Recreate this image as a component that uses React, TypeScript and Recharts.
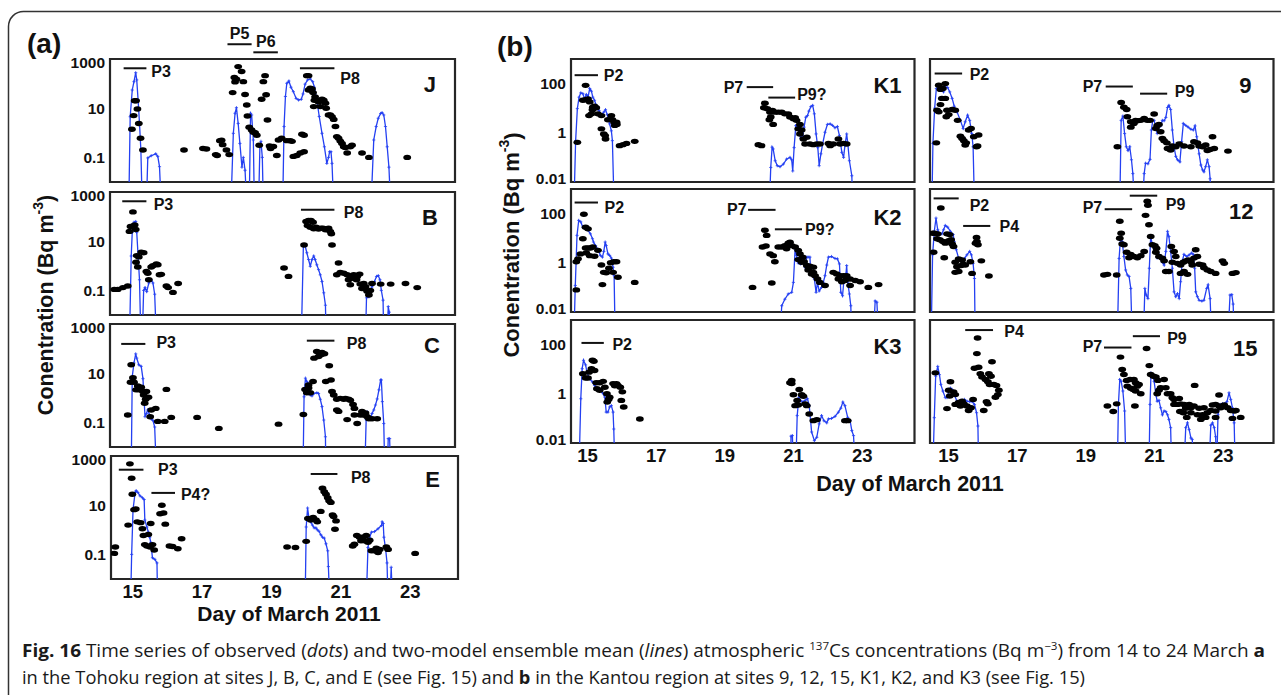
import React from 'react';
import {
  ComposedChart,
  Line,
  Scatter,
  XAxis,
  YAxis,
  ReferenceArea,
  ReferenceLine,
  ReferenceDot,
} from 'recharts';

type Pt = [number, number];
type Ann = { label: string; x1: number; x2: number; y: number; tx: number; ty: number; anchor: 'start' | 'end' | 'middle' };

// ---------- axes ----------
const X_DOMAIN: [number, number] = [14.375, 24.375];
const Y_DOMAIN: [number, number] = [0.01, 1000];
const X_LABELS = [15, 17, 19, 21, 23];
const DAY_TICKS = [15.375, 16.375, 17.375, 18.375, 19.375, 20.375, 21.375, 22.375, 23.375];
const DECADE_TICKS = [0.1, 1, 10, 100];
const Y_LABELS_A = [0.1, 10, 1000];
const Y_LABELS_B = [0.01, 1, 100];

// ---------- (a) Tohoku ----------
const J_DOTS: Pt[] = [
  [15.01, 1.4], [15.06, 5], [15.09, 20], [15.13, 20], [15.17, 9.3], [15.21, 2.4], [15.26, 0.6], [15.33, 0.2],
  [16.52, 0.2], [17.07, 0.23], [17.17, 0.22], [17.44, 0.13], [17.48, 0.12], [17.56, 0.48], [17.61, 0.5], [17.64, 0.33],
  [17.75, 0.2], [17.83, 0.13], [17.93, 43], [17.98, 178], [18.0, 117], [18.04, 150], [18.09, 490], [18.19, 310],
  [18.24, 120], [18.29, 36], [18.34, 13.5], [18.36, 4.8], [18.41, 1.7], [18.48, 1.3], [18.53, 1.05], [18.58, 1.0],
  [18.63, 0.8], [18.7, 0.31], [18.77, 23], [18.82, 120], [18.87, 210], [18.9, 35], [18.94, 3.3], [19.0, 0.29],
  [19.03, 0.23], [19.11, 0.28], [19.21, 0.12], [19.26, 0.51], [19.35, 0.6], [19.5, 0.48], [19.6, 0.48], [19.65, 0.45],
  [19.69, 0.11], [19.79, 0.12], [19.89, 0.15], [19.94, 0.87], [20.0, 0.8], [20.0, 0.17], [20.08, 210], [20.13, 210],
  [20.13, 55], [20.18, 65], [20.23, 60], [20.26, 43], [20.3, 21], [20.28, 11.6], [20.32, 29], [20.37, 21], [20.42, 18],
  [20.47, 11.6], [20.52, 23], [20.57, 21], [20.62, 16], [20.64, 10], [20.71, 5.3], [20.76, 5.3], [20.81, 4.5],
  [20.86, 3.5], [20.91, 1.8], [20.95, 0.7], [21.0, 0.6], [21.05, 0.46], [21.1, 0.37], [21.15, 0.27], [21.2, 0.25],
  [21.25, 0.15], [21.34, 0.27], [21.39, 0.31], [21.68, 0.15], [21.88, 0.1], [22.99, 0.1],
];
const J_LINE: Pt[] = [
  [14.92, 0.001], [14.96, 4.5], [15.02, 55], [15.07, 120], [15.12, 277], [15.15, 141], [15.19, 21], [15.23, 2.4],
  [15.27, 0.2], [15.31, 0.001], [15.43, 0.001], [15.47, 0.095], [15.57, 0.117], [15.7, 0.14], [15.76, 0.11],
  [15.81, 0.042], [15.86, 0.001], [17.88, 0.001], [17.95, 0.95], [18.0, 6.2], [18.04, 10.5], [18.09, 2.4],
  [18.14, 0.37], [18.2, 0.04], [18.24, 0.1], [18.29, 0.03], [18.34, 0.001], [18.41, 0.001], [18.45, 6.2],
  [18.48, 5.3], [18.53, 0.51], [18.56, 0.001], [18.68, 0.001], [18.72, 0.27], [18.75, 0.45], [18.79, 0.1],
  [18.82, 0.001], [19.38, 0.001], [19.42, 1.8], [19.46, 30], [19.5, 103], [19.56, 127], [19.62, 71], [19.69, 47],
  [19.77, 25], [19.84, 21.6], [19.92, 23], [19.97, 38], [20.03, 95], [20.1, 140], [20.18, 155], [20.25, 120],
  [20.3, 71], [20.37, 21.6], [20.44, 4.6], [20.52, 0.95], [20.59, 0.27], [20.66, 0.057], [20.71, 0.1], [20.74, 0.17],
  [20.78, 0.17], [20.81, 0.057], [20.86, 0.001], [21.94, 0.001], [22.02, 0.51], [22.09, 1.8], [22.15, 3.9],
  [22.22, 6.1], [22.26, 6.6], [22.31, 5.3], [22.36, 1.8], [22.41, 0.27], [22.46, 0.04], [22.51, 0.001],
];
const J_ANN: Ann[] = [
  { label: 'P3', x1: 14.77, x2: 15.43, y: 420, tx: 15.57, ty: 300, anchor: 'start' },
  { label: 'P5', x1: 17.78, x2: 18.48, y: 3980, tx: 18.13, ty: 11400, anchor: 'middle' },
  { label: 'P6', x1: 18.53, x2: 19.24, y: 1870, tx: 18.89, ty: 5000, anchor: 'middle' },
  { label: 'P8', x1: 19.88, x2: 20.88, y: 420, tx: 21.05, ty: 155, anchor: 'start' },
];

const B_DOTS: Pt[] = [
  [14.5, 0.11], [14.6, 0.11], [14.75, 0.13], [14.89, 0.15], [15.04, 155], [14.97, 40], [15.02, 40], [15.09, 46],
  [14.94, 25], [15.12, 30], [15.28, 3.6], [15.35, 3.4], [15.15, 2.6], [15.21, 2.3], [15.13, 1.4], [15.18, 0.9],
  [15.43, 0.59], [15.47, 0.5], [15.5, 0.27], [15.57, 0.9], [15.62, 1.0], [15.72, 1.2], [15.76, 1.1], [15.81, 0.43],
  [15.86, 0.45], [16.01, 0.15], [16.06, 0.13], [16.2, 0.083], [16.35, 0.19], [19.42, 0.81], [19.55, 0.37],
  [20.0, 7], [20.06, 63], [20.13, 69], [20.2, 69], [20.26, 59], [20.1, 43], [20.18, 37], [20.28, 32], [20.35, 37],
  [20.42, 31], [20.49, 34], [20.55, 34], [20.62, 29], [20.66, 32], [20.71, 34], [20.76, 25], [20.79, 20], [20.81, 7],
  [21.0, 1.3], [20.95, 0.43], [21.05, 0.54], [21.15, 0.5], [21.25, 0.43], [21.34, 0.37], [21.44, 0.43], [21.54, 0.37],
  [21.61, 0.46], [21.29, 0.27], [21.39, 0.31], [21.52, 0.27], [21.34, 0.17], [21.63, 0.18], [21.73, 0.19],
  [21.68, 0.12], [21.78, 0.14], [21.83, 0.093], [21.92, 0.1], [21.88, 0.065], [21.97, 0.19], [22.22, 0.18],
  [22.51, 0.18], [22.94, 0.19], [23.28, 0.13],
];
const B_LINE: Pt[] = [
  [14.94, 0.001], [14.99, 2.5], [15.02, 23], [15.07, 59], [15.12, 63], [15.15, 23], [15.19, 2.5], [15.23, 0.27],
  [15.27, 0.001], [15.31, 0.001], [15.35, 0.1], [15.39, 0.13], [15.44, 0.09], [15.5, 0.2], [15.57, 0.27], [15.62, 0.2],
  [15.67, 0.07], [15.72, 0.001], [19.92, 0.001], [19.98, 6.3], [20.03, 6.5], [20.08, 3.4], [20.13, 1.8], [20.18, 0.95],
  [20.23, 1.8], [20.28, 2.5], [20.32, 1.8], [20.37, 1.1], [20.42, 0.7], [20.47, 0.43], [20.52, 0.23], [20.57, 0.08],
  [20.62, 0.025], [20.64, 0.001], [21.78, 0.001], [21.81, 0.05], [21.88, 0.055], [21.92, 0.09], [21.97, 0.14],
  [22.04, 0.23], [22.1, 0.37], [22.15, 0.4], [22.2, 0.27], [22.24, 0.1], [22.29, 0.04], [22.31, 0.001],
  [22.41, 0.001], [22.44, 0.022], [22.47, 0.013], [22.49, 0.001],
];
const B_ANN: Ann[] = [
  { label: 'P3', x1: 14.73, x2: 15.43, y: 420, tx: 15.64, ty: 325, anchor: 'start' },
  { label: 'P8', x1: 19.91, x2: 20.88, y: 190, tx: 21.15, ty: 150, anchor: 'start' },
];

const C_DOTS: Pt[] = [
  [14.89, 0.2], [14.99, 22], [15.04, 6.6], [14.97, 4.3], [15.07, 4.3], [15.13, 2.1], [15.21, 2.1], [15.28, 2.7],
  [15.33, 1.8], [15.43, 1.8], [15.18, 3], [15.35, 1.3], [15.41, 0.87], [15.49, 1.05], [15.38, 0.6], [15.57, 0.32],
  [15.7, 0.37], [15.76, 0.11], [15.96, 0.11], [15.54, 0.17], [16.01, 2.2], [16.15, 0.16], [16.9, 0.16],
  [17.53, 0.057], [19.26, 0.085], [19.98, 0.21], [20.03, 2.2], [20.13, 2.5], [20.26, 4.6], [20.13, 3.3],
  [20.08, 1.6], [20.18, 1.6], [20.29, 41], [20.37, 76], [20.45, 66], [20.52, 69], [20.59, 62], [20.42, 48],
  [20.49, 56], [20.73, 20], [20.63, 4.6], [20.78, 5.3], [20.81, 1.8], [20.86, 1.3], [20.95, 0.87], [21.05, 0.95],
  [21.15, 0.87], [21.2, 0.95], [21.29, 0.87], [21.34, 0.8], [21.42, 0.54], [21.46, 0.37], [20.95, 0.32],
  [21.0, 0.28], [21.25, 0.13], [21.46, 0.2], [21.54, 0.09], [21.63, 0.2], [21.73, 0.2], [21.83, 0.17],
  [21.68, 0.28], [21.78, 0.24], [21.88, 0.14], [21.97, 0.14], [22.12, 0.14],
];
const C_LINE: Pt[] = [
  [14.99, 0.001], [15.02, 7.3], [15.07, 26], [15.12, 61], [15.15, 41], [15.21, 22], [15.28, 19], [15.33, 6],
  [15.39, 0.17], [15.43, 0.23], [15.47, 0.32], [15.52, 0.2], [15.57, 0.14], [15.62, 0.12], [15.67, 0.065],
  [15.72, 0.001], [19.97, 0.001], [20.0, 1.1], [20.04, 6.3], [20.08, 4.6], [20.13, 3.6], [20.18, 1.3], [20.23, 1.2],
  [20.29, 1.5], [20.37, 1.6], [20.42, 1.5], [20.47, 0.87], [20.52, 0.44], [20.57, 0.125], [20.62, 0.026],
  [20.63, 0.001], [21.76, 0.001], [21.8, 0.13], [21.83, 0.27], [21.88, 0.17], [21.92, 0.14], [21.97, 0.23],
  [22.02, 0.32], [22.07, 0.51], [22.12, 0.9], [22.17, 2.1], [22.22, 5.3], [22.24, 5.3], [22.27, 0.7], [22.31, 0.09],
  [22.34, 0.001], [22.41, 0.001], [22.44, 0.022], [22.48, 0.022], [22.51, 0.001],
];
const C_ANN: Ann[] = [
  { label: 'P3', x1: 14.7, x2: 15.4, y: 155, tx: 15.72, ty: 178, anchor: 'start' },
  { label: 'P8', x1: 20.08, x2: 20.88, y: 210, tx: 21.24, ty: 166, anchor: 'start' },
];

const E_DOTS: Pt[] = [
  [14.5, 0.2], [14.47, 0.11], [14.92, 480], [14.97, 125], [14.99, 28], [15.04, 6.6], [15.09, 7], [14.87, 1.55],
  [15.13, 2.1], [15.23, 1.95], [15.28, 1.1], [15.31, 0.59], [15.45, 0.65], [15.52, 1.8], [15.35, 0.25], [15.41, 0.22],
  [15.5, 0.2], [15.57, 0.25], [15.62, 0.15], [15.84, 10], [15.79, 4.5], [15.89, 4.8], [15.94, 1.7], [16.06, 0.22],
  [16.15, 0.21], [16.3, 0.17], [16.41, 0.43], [19.45, 0.2], [19.69, 0.19], [20.0, 0.34], [20.05, 2.9], [20.13, 2.5],
  [20.2, 3.2], [20.28, 2.5], [20.32, 2.1], [20.42, 5.6], [20.47, 49], [20.52, 35], [20.57, 28], [20.62, 20],
  [20.66, 15], [20.71, 13], [20.76, 4], [20.79, 3.5], [20.86, 2.3], [20.83, 1.05], [21.34, 0.22], [21.39, 0.26],
  [21.46, 0.59], [21.54, 0.5], [21.63, 0.5], [21.73, 0.59], [21.58, 0.36], [21.68, 0.36], [21.78, 0.31],
  [21.83, 0.38], [21.88, 0.14], [21.97, 0.14], [22.07, 0.12], [22.12, 0.16], [22.02, 0.18], [22.31, 0.2],
  [22.36, 0.16], [23.14, 0.11],
];
const E_LINE: Pt[] = [
  [14.94, 0.001], [14.97, 0.1], [15.01, 6.6], [15.07, 33], [15.1, 39], [15.15, 33], [15.21, 24], [15.28, 20],
  [15.33, 17], [15.35, 2.5], [15.41, 1.3], [15.45, 0.81], [15.49, 0.5], [15.52, 0.31], [15.57, 0.073],
  [15.64, 0.063], [15.7, 0.045], [15.72, 0.001], [19.97, 0.001], [20.0, 1.3], [20.04, 7.7], [20.08, 3],
  [20.13, 2.1], [20.18, 1.55], [20.23, 1.2], [20.28, 1.2], [20.32, 1], [20.37, 0.87], [20.42, 0.63], [20.47, 0.5],
  [20.52, 0.46], [20.57, 0.27], [20.62, 0.14], [20.64, 0.032], [20.68, 0.001], [21.73, 0.001], [21.78, 0.19],
  [21.83, 0.5], [21.88, 0.8], [21.97, 0.85], [22.07, 1.1], [22.17, 1.5], [22.19, 2.1], [22.22, 1.8], [22.24, 0.5],
  [22.29, 0.16], [22.33, 0.045], [22.36, 0.001], [22.41, 0.001], [22.45, 0.03], [22.49, 0.001],
];
const E_ANN: Ann[] = [
  { label: 'P3', x1: 14.6, x2: 15.31, y: 277, tx: 15.73, ty: 277, anchor: 'start' },
  { label: 'P4?', x1: 15.54, x2: 16.22, y: 31.6, tx: 16.39, ty: 27, anchor: 'start' },
  { label: 'P8', x1: 20.13, x2: 20.9, y: 186, tx: 21.29, ty: 129, anchor: 'start' },
];

// ---------- (b) Kantou ----------
const K1_DOTS: Pt[] = [
  [14.8, 85], [14.72, 21], [14.8, 22], [14.87, 24], [14.92, 18], [15.01, 11], [15.06, 12], [15.0, 8.7], [15.11, 10.5],
  [14.9, 5], [14.97, 5.9], [15.16, 5.9], [15.26, 5], [15.26, 1.45], [15.33, 0.9], [15.38, 0.56], [15.37, 0.77],
  [15.45, 3.4], [15.55, 5], [15.58, 3.4], [15.63, 2.7], [15.7, 2.7], [15.65, 2], [15.71, 2.2], [14.56, 0.41],
  [15.79, 0.3], [15.89, 0.33], [15.99, 0.37], [16.23, 0.45], [19.83, 0.33], [19.92, 0.3], [20.02, 16], [19.99, 10.5],
  [20.09, 9.5], [20.17, 6.9], [20.24, 8.1], [20.31, 6.9], [20.19, 4.4], [20.15, 3.4], [20.26, 2.2], [20.41, 6.9],
  [20.51, 6.9], [20.6, 5.9], [20.7, 5.9], [20.75, 4.4], [20.85, 3.7], [20.9, 4.1], [20.94, 3.2], [21.04, 2.2],
  [20.99, 1.45], [21.09, 1.3], [21.04, 0.9], [21.14, 0.56], [21.24, 0.66], [21.19, 0.35], [21.33, 0.35],
  [21.43, 0.33], [21.53, 0.35], [21.62, 0.35], [21.87, 0.37], [22.01, 0.35], [21.92, 0.3], [22.16, 0.56],
  [22.21, 0.35], [22.31, 0.37], [22.4, 0.35],
];
const K1_LINE: Pt[] = [
  [14.46, 0.001], [14.51, 0.48], [14.56, 9.6], [14.61, 28], [14.66, 42], [14.72, 39], [14.77, 24], [14.82, 36],
  [14.87, 28], [14.92, 63], [14.97, 49], [15.01, 28], [15.06, 21], [15.11, 13], [15.19, 8], [15.26, 5.4],
  [15.33, 6.9], [15.38, 8.7], [15.43, 5.5], [15.5, 2.3], [15.55, 1.2], [15.58, 0.48], [15.63, 0.001],
  [20.15, 0.001], [20.19, 0.039], [20.23, 0.26], [20.26, 0.22], [20.32, 0.073], [20.38, 0.046], [20.46, 0.042],
  [20.56, 0.054], [20.65, 0.085], [20.75, 0.1], [20.8, 0.08], [20.83, 0.028], [20.87, 0.25], [20.92, 1.96],
  [20.96, 1.7], [21.02, 1.05], [21.06, 0.6], [21.12, 0.78], [21.16, 1.7], [21.21, 4.3], [21.26, 5], [21.3, 7.6],
  [21.36, 11.7], [21.41, 13], [21.46, 5.9], [21.51, 0.9], [21.56, 0.25], [21.6, 0.046], [21.65, 0.14], [21.7, 0.35],
  [21.77, 1.05], [21.84, 2.2], [21.92, 2.3], [21.99, 2], [22.06, 1.6], [22.13, 1.8], [22.19, 0.77], [22.26, 0.16],
  [22.31, 0.1], [22.35, 0.3], [22.4, 0.9], [22.43, 0.4], [22.48, 0.073], [22.55, 0.018], [22.58, 0.001],
];
const K1_ANN: Ann[] = [
  { label: 'P2', x1: 14.48, x2: 15.16, y: 220, tx: 15.33, ty: 210, anchor: 'start' },
  { label: 'P7', x1: 19.49, x2: 20.26, y: 72, tx: 19.39, ty: 72, anchor: 'end' },
  { label: 'P9?', x1: 20.12, x2: 20.9, y: 27, tx: 20.96, ty: 35, anchor: 'start' },
];

const K2_DOTS: Pt[] = [
  [14.75, 94], [14.8, 28], [14.87, 24], [14.72, 9.5], [14.65, 2.3], [14.58, 1.45], [14.53, 1.1], [14.8, 4], [14.87, 4],
  [14.94, 4], [15.01, 4.4], [14.82, 2.5], [14.92, 1.95], [15.06, 1.85], [15.16, 3.2], [15.26, 0.81], [15.33, 0.41],
  [15.4, 0.39], [15.48, 0.6], [15.53, 1], [15.62, 1.1], [15.6, 0.41], [15.7, 1.1], [15.74, 0.26], [15.29, 0.13],
  [14.53, 0.079], [16.23, 0.16], [19.66, 0.1], [20.02, 21], [20.07, 13], [19.95, 4.4], [20.05, 4.8], [20.17, 2.3],
  [20.26, 1.95], [20.31, 1.1], [20.22, 0.15], [20.41, 4.4], [20.51, 4.4], [20.6, 5], [20.7, 6.3], [20.75, 6.9],
  [20.65, 3.7], [20.8, 5], [20.9, 4.4], [20.99, 3.2], [21.04, 2.3], [21.12, 1.7], [20.99, 1.35], [21.09, 1.05],
  [21.16, 1.1], [21.24, 0.78], [21.28, 0.51], [21.38, 0.35], [21.43, 0.41], [21.48, 0.3], [21.55, 0.22],
  [21.62, 0.16], [21.77, 0.12], [21.43, 0.66], [21.33, 0.72], [22.01, 0.41], [22.11, 0.35], [22.21, 0.3],
  [22.31, 0.3], [22.4, 0.3], [22.5, 0.22], [22.16, 0.22], [22.26, 0.17], [22.35, 0.19], [22.5, 0.12], [22.65, 0.19],
  [22.79, 0.17], [23.03, 0.1], [23.33, 0.13],
];
const K2_LINE: Pt[] = [
  [14.46, 0.001], [14.5, 0.12], [14.55, 13], [14.6, 53], [14.66, 46], [14.72, 28], [14.8, 24], [14.87, 21],
  [14.94, 15], [15.0, 9.5], [15.03, 7], [15.09, 5], [15.16, 3.5], [15.23, 2], [15.29, 1.7], [15.33, 2.9], [15.37, 7],
  [15.4, 5], [15.45, 2.3], [15.5, 2], [15.55, 1.55], [15.6, 0.66], [15.63, 0.3], [15.66, 0.001], [20.46, 0.001],
  [20.51, 0.018], [20.6, 0.033], [20.7, 0.054], [20.8, 0.063], [20.85, 0.16], [20.9, 3.7], [20.94, 2], [20.99, 0.98],
  [21.06, 0.9], [21.12, 1.2], [21.19, 0.66], [21.24, 1.7], [21.28, 1.7], [21.33, 1.7], [21.35, 0.56], [21.4, 0.3],
  [21.46, 0.22], [21.51, 0.063], [21.55, 0.16], [21.6, 0.072], [21.67, 0.1], [21.72, 0.16], [21.77, 0.3],
  [21.82, 0.81], [21.87, 1.7], [21.96, 1.8], [22.06, 1.5], [22.13, 1.45], [22.19, 0.9], [22.23, 0.063],
  [22.28, 0.046], [22.32, 0.19], [22.38, 0.35], [22.4, 0.77], [22.43, 0.16], [22.48, 0.054], [22.52, 0.018],
  [22.55, 0.001], [23.18, 0.001], [23.23, 0.028], [23.28, 0.025], [23.33, 0.001],
];
const K2_ANN: Ann[] = [
  { label: 'P2', x1: 14.48, x2: 15.16, y: 282, tx: 15.35, ty: 178, anchor: 'start' },
  { label: 'P7', x1: 19.53, x2: 20.33, y: 142, tx: 19.49, ty: 151, anchor: 'end' },
  { label: 'P9?', x1: 20.31, x2: 21.1, y: 23, tx: 21.19, ty: 23, anchor: 'start' },
];

const K3_DOTS: Pt[] = [
  [15.0, 23], [15.04, 21], [15.06, 8.9], [14.97, 10.5], [14.9, 7.6], [14.72, 6.6], [14.8, 4.4], [14.87, 4.4],
  [15.11, 2.8], [15.21, 2.8], [15.31, 3.2], [15.36, 1.85], [15.13, 1.6], [15.21, 1.4], [15.42, 1], [15.5, 0.72],
  [15.43, 0.46], [15.47, 0.59], [15.6, 2.6], [15.7, 2.6], [15.74, 2.2], [15.65, 2.1], [15.81, 1.85], [15.87, 1.2],
  [15.84, 0.54], [15.91, 0.29], [16.38, 0.095], [20.75, 2.8], [20.8, 2.6], [20.8, 3.5], [20.85, 0.91], [21.02, 1.5],
  [21.09, 0.91], [21.14, 0.8], [20.96, 0.54], [20.9, 0.33], [20.99, 0.35], [21.19, 0.39], [21.24, 0.33],
  [21.31, 0.15], [21.43, 0.081], [21.53, 0.089], [22.35, 0.081], [22.43, 0.081],
];
const K3_LINE: Pt[] = [
  [14.61, 0.001], [14.66, 0.63], [14.7, 10.5], [14.74, 23], [14.8, 15], [14.84, 7.6], [14.92, 4], [15.0, 3],
  [15.06, 2.2], [15.13, 1.7], [15.21, 1.38], [15.29, 1.1], [15.36, 0.73], [15.4, 0.18], [15.45, 0.18], [15.5, 0.29],
  [15.55, 0.33], [15.6, 0.18], [15.62, 0.037], [15.65, 0.001], [20.77, 0.001], [20.78, 0.019], [20.82, 0.02],
  [20.85, 0.001], [20.92, 0.001], [20.96, 0.13], [21.01, 0.72], [21.06, 0.54], [21.12, 0.46], [21.19, 0.54],
  [21.26, 0.63], [21.31, 0.33], [21.38, 0.028], [21.46, 0.0125], [21.53, 0.017], [21.6, 0.06], [21.67, 0.13],
  [21.74, 0.08], [21.82, 0.066], [21.87, 0.095], [21.96, 0.1], [22.06, 0.12], [22.16, 0.18], [22.23, 0.26],
  [22.29, 0.46], [22.35, 0.33], [22.43, 0.11], [22.5, 0.081], [22.55, 0.032], [22.6, 0.02], [22.65, 0.001],
];
const K3_ANN: Ann[] = [
  { label: 'P2', x1: 14.68, x2: 15.33, y: 117, tx: 15.58, ty: 100, anchor: 'start' },
];

const S9_DOTS: Pt[] = [
  [14.63, 86], [14.68, 58], [14.75, 63], [14.82, 100], [14.68, 14], [14.63, 7.1], [14.58, 8.3], [14.72, 25],
  [14.82, 25], [14.87, 8.3], [14.92, 5.5], [14.85, 4.5], [15.02, 8.9], [15.11, 8.3], [15.18, 3.2], [15.26, 0.72],
  [15.31, 0.59], [15.36, 0.48], [15.43, 0.39], [15.4, 0.32], [15.5, 1.3], [15.57, 1.5], [15.65, 0.69], [15.73, 0.27],
  [15.79, 0.81], [15.76, 0.29], [14.56, 0.39], [19.83, 0.27], [19.94, 17], [20.02, 11], [20.1, 8.9], [20.12, 4.5],
  [20.22, 1.7], [20.31, 2.4], [20.36, 3.2], [20.22, 2.8], [20.41, 3.1], [20.51, 3.2], [20.61, 3.8], [20.7, 3.2],
  [20.78, 3.2], [20.9, 5.8], [20.99, 2], [21.04, 2.2], [20.95, 1.5], [21.09, 1.1], [21.14, 0.59], [21.19, 0.48],
  [21.27, 0.39], [21.29, 0.23], [21.38, 0.2], [21.43, 0.29], [21.53, 0.27], [21.63, 0.35], [21.77, 0.29],
  [21.97, 0.27], [22.06, 0.43], [22.21, 0.29], [22.31, 0.27], [22.4, 0.32], [22.16, 0.39], [22.45, 0.19],
  [22.53, 0.21], [22.6, 0.69], [22.65, 0.23], [23.05, 0.18],
];
const S9_LINE: Pt[] = [
  [14.43, 0.001], [14.46, 0.37], [14.51, 10], [14.56, 63], [14.63, 73], [14.68, 54], [14.72, 63], [14.77, 46],
  [14.82, 73], [14.89, 69], [14.95, 46], [15.02, 25], [15.08, 12], [15.16, 7.1], [15.26, 3.2], [15.34, 1.5],
  [15.4, 2.8], [15.47, 5.2], [15.53, 3.2], [15.59, 0.93], [15.63, 0.27], [15.67, 0.001], [19.9, 0.001],
  [19.94, 3.2], [19.99, 4.8], [20.04, 0.93], [20.09, 0.27], [20.14, 0.19], [20.19, 0.27], [20.24, 0.08],
  [20.28, 0.022], [20.33, 0.001], [20.56, 0.001], [20.61, 0.022], [20.65, 0.058], [20.72, 0.055], [20.78, 0.083],
  [20.82, 1.3], [20.86, 3.2], [20.9, 3.2], [20.95, 1.7], [20.99, 0.93], [21.04, 1.7], [21.09, 1.9], [21.14, 3.2],
  [21.19, 3.1], [21.24, 4.2], [21.29, 10.7], [21.33, 13], [21.38, 8.9], [21.43, 1.3], [21.48, 0.27], [21.53, 0.11],
  [21.58, 0.08], [21.65, 0.066], [21.7, 0.44], [21.75, 2.4], [21.82, 2], [21.89, 1.7], [21.97, 1.4], [22.04, 1.3],
  [22.09, 1.9], [22.14, 0.69], [22.21, 0.14], [22.26, 0.049], [22.31, 0.031], [22.35, 0.026], [22.4, 0.042],
  [22.45, 0.08], [22.5, 0.042], [22.53, 0.0135], [22.55, 0.001],
];
const S9_ANN: Ann[] = [
  { label: 'P2', x1: 14.51, x2: 15.31, y: 257, tx: 15.53, ty: 229, anchor: 'start' },
  { label: 'P7', x1: 19.49, x2: 20.28, y: 76, tx: 19.39, ty: 76, anchor: 'end' },
  { label: 'P9', x1: 20.49, x2: 21.28, y: 39, tx: 21.5, ty: 47, anchor: 'start' },
];

const S12_DOTS: Pt[] = [
  [14.69, 170], [14.45, 16], [14.51, 16], [14.6, 15], [14.58, 9.5], [14.66, 8.7], [14.48, 2.7], [14.75, 7.4],
  [14.82, 6.3], [14.87, 15], [14.95, 14], [14.99, 8.7], [15.02, 5.8], [14.92, 7.9], [15.06, 4.6], [14.79, 1.6],
  [15.11, 1.05], [15.21, 1.45], [15.31, 1.3], [15.16, 0.69], [15.28, 0.77], [15.11, 0.41], [15.21, 0.44],
  [15.34, 0.87], [15.4, 0.81], [15.55, 1.1], [15.6, 0.37], [15.7, 6.3], [15.74, 7.4], [15.77, 5.4], [15.73, 10.7],
  [15.87, 1.2], [16.09, 0.29], [19.44, 0.32], [19.54, 0.34], [19.81, 0.32], [19.9, 49], [19.94, 16], [19.9, 10],
  [19.97, 5.8], [20.02, 5.4], [20.1, 2.7], [20.22, 2.2], [20.17, 1.6], [20.31, 1.8], [20.41, 1.6], [20.51, 1.95],
  [20.61, 2.9], [20.7, 320], [20.72, 220], [20.65, 85], [20.75, 35], [20.8, 11.7], [20.85, 5.4], [20.92, 5],
  [20.97, 3.9], [20.95, 2.7], [21.04, 1.8], [21.14, 1.55], [21.19, 1.2], [21.24, 0.44], [21.33, 0.44], [21.4, 4.6],
  [21.48, 2.9], [21.53, 1.8], [21.43, 1.05], [21.58, 0.95], [21.67, 0.81], [21.75, 1.05], [21.82, 1.2],
  [21.67, 0.37], [21.77, 0.44], [21.87, 0.34], [21.89, 1.3], [21.97, 1.1], [22.06, 1.55], [22.16, 1.8],
  [22.11, 3.4], [22.01, 0.81], [22.21, 0.87], [22.31, 0.81], [22.35, 0.63], [22.45, 0.51], [22.55, 0.44],
  [22.69, 0.37], [22.89, 1.2], [22.94, 0.95], [23.18, 0.37], [23.28, 0.4],
];
const S12_LINE: Pt[] = [
  [14.41, 0.001], [14.45, 2.1], [14.5, 19], [14.55, 66], [14.6, 22], [14.66, 14], [14.72, 15], [14.77, 22],
  [14.82, 33], [14.89, 28], [14.97, 19], [15.05, 14], [15.08, 7.4], [15.14, 3.4], [15.21, 1.5], [15.31, 1.3],
  [15.38, 1.5], [15.45, 2.1], [15.53, 2.9], [15.58, 2.1], [15.63, 0.95], [15.67, 0.23], [15.69, 0.001],
  [19.83, 0.001], [19.88, 1.5], [19.92, 9.5], [19.97, 7.4], [20.02, 1.8], [20.07, 0.51], [20.12, 0.32],
  [20.17, 0.28], [20.22, 0.091], [20.26, 0.001], [20.59, 0.001], [20.63, 0.091], [20.67, 0.049], [20.72, 0.035],
  [20.76, 0.6], [20.8, 11.7], [20.85, 5.4], [20.9, 2.9], [20.95, 2.9], [20.99, 1.6], [21.04, 2.2], [21.09, 1.5],
  [21.14, 1.05], [21.19, 0.81], [21.24, 2.9], [21.29, 19], [21.33, 11.7], [21.38, 2.9], [21.43, 0.6], [21.48, 0.066],
  [21.53, 0.042], [21.58, 0.056], [21.63, 0.035], [21.67, 0.17], [21.72, 1.2], [21.77, 2.2], [21.85, 1.8],
  [21.92, 2.1], [21.99, 2.5], [22.04, 2.2], [22.08, 0.6], [22.11, 0.066], [22.16, 0.042], [22.21, 0.03],
  [22.29, 0.028], [22.35, 0.03], [22.43, 0.091], [22.47, 0.126], [22.53, 0.035], [22.57, 0.001], [23.05, 0.001],
  [23.11, 0.049], [23.16, 0.051], [23.2, 0.021], [23.23, 0.001],
];
const S12_ANN: Ann[] = [
  { label: 'P2', x1: 14.48, x2: 15.21, y: 415, tx: 15.53, ty: 220, anchor: 'start' },
  { label: 'P4', x1: 15.34, x2: 16.13, y: 31.5, tx: 16.4, ty: 29, anchor: 'start' },
  { label: 'P7', x1: 19.46, x2: 20.26, y: 151, tx: 19.39, ty: 178, anchor: 'end' },
  { label: 'P9', x1: 20.19, x2: 20.99, y: 535, tx: 21.24, ty: 240, anchor: 'start' },
];

const S15_DOTS: Pt[] = [
  [15.76, 186], [15.74, 43], [15.67, 11], [15.79, 12], [15.84, 6.6], [15.89, 4.8], [16.09, 6.5], [16.15, 5.2],
  [16.18, 20], [15.99, 3.8], [16.06, 3.1], [16.11, 2.4], [16.23, 2.4], [16.31, 2.2], [16.38, 1.4], [16.35, 0.93],
  [16.28, 0.72], [16.02, 0.48], [16.06, 0.39], [15.94, 0.21], [14.53, 7.1], [14.97, 3.1], [14.92, 1.4], [15.06, 1.2],
  [15.11, 0.93], [14.95, 0.81], [14.87, 0.25], [15.11, 0.37], [15.21, 0.44], [15.31, 0.5], [15.26, 0.32],
  [15.36, 0.39], [15.45, 0.32], [15.5, 0.21], [15.57, 0.27], [15.63, 0.59], [19.54, 0.32], [19.71, 0.19],
  [19.81, 0.39], [19.92, 31], [19.97, 9.7], [20.02, 6.1], [20.1, 3.5], [20.2, 3.8], [20.12, 2.05], [20.22, 1.7],
  [20.31, 3.8], [20.36, 2.8], [20.46, 2.4], [20.29, 1.5], [20.36, 1.3], [20.51, 1], [20.41, 2.05], [20.34, 0.32],
  [20.68, 69], [20.76, 14], [20.8, 6.1], [20.88, 5.2], [20.95, 4.8], [21.01, 3.5], [21.19, 3.8], [21.09, 1.75],
  [21.24, 1.75], [21.04, 1.4], [20.99, 1], [21.29, 1], [21.38, 1], [21.43, 0.69], [21.48, 0.59], [21.63, 0.65],
  [21.48, 0.37], [21.58, 0.37], [21.67, 0.39], [21.77, 0.37], [21.92, 0.37], [21.65, 0.19], [21.75, 0.17],
  [21.85, 0.11], [21.82, 0.26], [21.97, 0.27], [22.06, 0.32], [22.21, 0.26], [22.35, 0.27], [22.08, 2.2],
  [21.97, 0.17], [22.16, 0.14], [22.31, 0.14], [22.45, 0.17], [22.55, 0.21], [22.69, 0.2], [22.26, 0.091],
  [22.4, 0.11], [22.69, 0.11], [22.79, 0.89], [22.6, 0.35], [22.69, 0.37], [22.79, 0.32], [22.84, 0.27],
  [22.94, 0.35], [23.04, 0.27], [23.13, 0.21], [23.23, 0.2], [23.28, 0.21], [23.18, 0.1], [23.42, 0.11],
];
const S15_LINE: Pt[] = [
  [14.46, 0.001], [14.5, 0.107], [14.54, 5.2], [14.6, 13], [14.65, 6], [14.69, 2.4], [14.75, 1.3], [14.82, 0.7],
  [14.87, 0.7], [14.92, 1.2], [14.97, 1.7], [15.02, 1.5], [15.08, 0.93], [15.16, 0.5], [15.24, 0.44], [15.31, 0.54],
  [15.38, 0.59], [15.45, 0.5], [15.53, 0.48], [15.6, 0.48], [15.67, 0.37], [15.73, 0.17], [15.77, 0.049],
  [15.79, 0.001], [19.83, 0.001], [19.86, 0.37], [19.9, 3.8], [19.94, 3.2], [19.99, 1.3], [20.04, 0.2],
  [20.08, 0.001], [20.75, 0.001], [20.78, 0.37], [20.81, 7], [20.86, 6], [20.9, 3.2], [20.95, 0.93], [20.99, 0.5],
  [21.04, 0.54], [21.09, 0.27], [21.14, 0.14], [21.19, 0.2], [21.24, 0.19], [21.29, 0.14], [21.33, 0.091],
  [21.38, 0.042], [21.41, 0.001], [21.77, 0.001], [21.82, 0.042], [21.87, 0.066], [21.92, 0.035], [21.97, 0.016],
  [22.01, 0.014], [22.06, 0.001], [22.5, 0.001], [22.55, 0.053], [22.6, 0.066], [22.65, 0.042], [22.69, 0.018],
  [22.72, 0.001], [22.76, 0.14], [22.82, 0.37], [22.89, 0.4], [22.96, 0.4], [23.02, 0.48], [23.08, 1.1],
  [23.13, 0.59], [23.18, 0.27], [23.23, 0.066], [23.26, 0.001],
];
const S15_ANN: Ann[] = [
  { label: 'P4', x1: 15.4, x2: 16.21, y: 390, tx: 16.54, ty: 330, anchor: 'start' },
  { label: 'P7', x1: 19.44, x2: 20.24, y: 76, tx: 19.39, ty: 81, anchor: 'end' },
  { label: 'P9', x1: 20.28, x2: 21.07, y: 220, tx: 21.28, ty: 178, anchor: 'start' },
];

// ---------- styling ----------
const BLUE = '#2440f2';
const FONT = '"Liberation Sans", Arial, Helvetica, sans-serif';
const CAP_FONT = '"Open Sans", "Noto Sans", sans-serif';
const BOX = '#262626';

type PanelCfg = {
  site: string; left: number; top: number; width: number; height: number;
  dots: Pt[]; line: Pt[]; anns: Ann[];
  siteRight: number; siteTop: number;
  yLabels: number[] | null; xLabels: boolean; xDx: number;
};

const A_L = 109.5, A_W = 345, B1_L = 571, B2_L = 929.5, B_W = 343.5, PH = 123;

const PANELS: PanelCfg[] = [
  { site: 'J', left: A_L, top: 59, width: A_W, height: PH, dots: J_DOTS, line: J_LINE, anns: J_ANN, siteRight: 19, siteTop: 17, yLabels: Y_LABELS_A, xLabels: false, xDx: 0 },
  { site: 'B', left: A_L, top: 191.5, width: A_W, height: PH, dots: B_DOTS, line: B_LINE, anns: B_ANN, siteRight: 17, siteTop: 17, yLabels: Y_LABELS_A, xLabels: false, xDx: 0 },
  { site: 'C', left: A_L, top: 323.5, width: A_W, height: PH, dots: C_DOTS, line: C_LINE, anns: C_ANN, siteRight: 15, siteTop: 13, yLabels: Y_LABELS_A, xLabels: false, xDx: 0 },
  { site: 'E', left: A_L + 1, top: 455.5, width: A_W + 2, height: PH, dots: E_DOTS, line: E_LINE, anns: E_ANN, siteRight: 18, siteTop: 15, yLabels: Y_LABELS_A, xLabels: true, xDx: 0 },
  { site: 'K1', left: B1_L, top: 58.5, width: B_W, height: PH, dots: K1_DOTS, line: K1_LINE, anns: K1_ANN, siteRight: 13, siteTop: 18, yLabels: Y_LABELS_B, xLabels: false, xDx: -5 },
  { site: 'K2', left: B1_L, top: 188.5, width: B_W, height: PH, dots: K2_DOTS, line: K2_LINE, anns: K2_ANN, siteRight: 13, siteTop: 20, yLabels: Y_LABELS_B, xLabels: false, xDx: -5 },
  { site: 'K3', left: B1_L, top: 320, width: B_W, height: PH, dots: K3_DOTS, line: K3_LINE, anns: K3_ANN, siteRight: 13, siteTop: 18, yLabels: Y_LABELS_B, xLabels: true, xDx: -5 },
  { site: '9', left: B2_L, top: 58.5, width: B_W, height: PH, dots: S9_DOTS, line: S9_LINE, anns: S9_ANN, siteRight: 22, siteTop: 18, yLabels: null, xLabels: false, xDx: -3 },
  { site: '12', left: B2_L, top: 188.5, width: B_W, height: PH, dots: S12_DOTS, line: S12_LINE, anns: S12_ANN, siteRight: 20, siteTop: 14, yLabels: null, xLabels: false, xDx: -3 },
  { site: '15', left: B2_L, top: 320, width: B_W, height: PH, dots: S15_DOTS, line: S15_LINE, anns: S15_ANN, siteRight: 16, siteTop: 20, yLabels: null, xLabels: true, xDx: -3 },
];

const toPts = (a: Pt[]) => a.map(([x, y]) => ({ x, y }));

const YW = 60, XH = 30, TM = 10, RM = 10;

const YTick = (props: any) => {
  const { x, y, payload } = props;
  const v = payload.value;
  const nudge = v === Y_DOMAIN[1] ? 3 : v === Y_DOMAIN[0] ? -4 : 0;
  return (
    <text x={x} y={y + nudge} textAnchor="end" dominantBaseline="central" fontFamily={FONT} fontWeight="bold" fontSize={15.5} fill="#111">
      {String(v)}
    </text>
  );
};

const makeXTick = (dx: number) => (props: any) => {
  const { x, y, payload } = props;
  return (
    <text x={x + dx} y={y + 13.5} textAnchor="middle" fontFamily={FONT} fontWeight="bold" fontSize={18.5} fill="#111">
      {String(payload.value)}
    </text>
  );
};

const plusDot = (p: any) => {
  if (p.cx == null || p.cy == null || isNaN(p.cx) || isNaN(p.cy)) return <g key={`d${p.index}`} />;
  return (
    <path
      key={`d${p.index}`}
      d={`M${p.cx - 1.6},${p.cy}H${p.cx + 1.6}M${p.cx},${p.cy - 1.6}V${p.cy + 1.6}`}
      stroke={BLUE}
      strokeWidth={0.8}
      fill="none"
    />
  );
};

const ellipseShape = (p: any) => <ellipse cx={p.cx} cy={p.cy} rx={3.9} ry={2.7} fill="#000" />;

const tickLineStyle = { stroke: '#333', strokeWidth: 1.2 };

function Panel({ cfg }: { cfg: PanelCfg }) {
  const XTick = makeXTick(cfg.xDx);
  return (
    <div style={{ position: 'absolute', left: cfg.left - YW, top: cfg.top - TM }}>
      <ComposedChart
        width={YW + cfg.width + RM}
        height={TM + cfg.height + XH}
        margin={{ top: TM, right: RM, bottom: 0, left: 0 }}
      >
        <XAxis
          xAxisId="x" type="number" dataKey="x" domain={X_DOMAIN} allowDataOverflow
          ticks={X_LABELS} interval={0} height={XH}
          tick={cfg.xLabels ? XTick : false} tickLine={false} axisLine={false} tickSize={0} tickMargin={5}
        />
        <XAxis
          xAxisId="xb" type="number" domain={X_DOMAIN} allowDataOverflow orientation="bottom" mirror
          ticks={DAY_TICKS} interval={0} tick={false} tickSize={5} axisLine={false} tickLine={tickLineStyle}
        />
        <XAxis
          xAxisId="xt" type="number" domain={X_DOMAIN} allowDataOverflow orientation="top" mirror
          ticks={DAY_TICKS} interval={0} tick={false} tickSize={5} axisLine={false} tickLine={tickLineStyle}
        />
        <YAxis
          yAxisId="y" type="number" dataKey="y" scale="log" domain={Y_DOMAIN} allowDataOverflow
          ticks={cfg.yLabels ?? DECADE_TICKS} interval={0} width={YW}
          tick={cfg.yLabels ? YTick : false} tickLine={false} axisLine={false} tickSize={0} tickMargin={5}
        />
        <YAxis
          yAxisId="yl" type="number" scale="log" domain={Y_DOMAIN} allowDataOverflow orientation="left" mirror
          ticks={DECADE_TICKS} interval={0} tick={false} tickSize={5} axisLine={false} tickLine={tickLineStyle}
        />
        <YAxis
          yAxisId="yr" type="number" scale="log" domain={Y_DOMAIN} allowDataOverflow orientation="right" mirror
          ticks={DECADE_TICKS} interval={0} tick={false} tickSize={5} axisLine={false} tickLine={tickLineStyle}
        />
        <Line
          xAxisId="x" yAxisId="y" data={toPts(cfg.line)} dataKey="y" type="linear"
          stroke={BLUE} strokeWidth={1.3} dot={plusDot} activeDot={false} isAnimationActive={false}
        />
        <Scatter
          xAxisId="x" yAxisId="y" data={toPts(cfg.dots)} dataKey="y"
          shape={ellipseShape} isAnimationActive={false}
        />
        {cfg.anns.map((a, i) => (
          <ReferenceLine
            key={`l${i}`} xAxisId="x" yAxisId="y" ifOverflow="visible"
            segment={[{ x: a.x1, y: a.y }, { x: a.x2, y: a.y }]}
            stroke="#111" strokeWidth={2}
          />
        ))}
        {cfg.anns.map((a, i) => (
          <ReferenceDot
            key={`t${i}`} xAxisId="x" yAxisId="y" x={a.tx} y={a.ty} ifOverflow="visible" r={1}
            shape={(p: any) => (
              <text x={p.cx} y={p.cy} textAnchor={a.anchor} dominantBaseline="central"
                fontFamily={FONT} fontWeight="bold" fontSize={16} fill="#111">
                {a.label}
              </text>
            )}
          />
        ))}
        <ReferenceArea
          xAxisId="x" yAxisId="y" x1={X_DOMAIN[0]} x2={X_DOMAIN[1]} y1={Y_DOMAIN[0]} y2={Y_DOMAIN[1]}
          ifOverflow="visible" fill="none" fillOpacity={0} stroke={BOX} strokeWidth={2.2}
        />
        <ReferenceDot
          xAxisId="x" yAxisId="y" x={X_DOMAIN[1]} y={Y_DOMAIN[1]} ifOverflow="visible" r={1}
          shape={(p: any) => (
            <text x={p.cx - cfg.siteRight} y={p.cy + cfg.siteTop + 15.5} textAnchor="end"
              fontFamily={FONT} fontWeight="bold" fontSize={22} fill="#111">
              {cfg.site}
            </text>
          )}
        />
      </ComposedChart>
    </div>
  );
}

export default function App() {
  return (
    <div style={{ position: 'absolute', left: 0, top: 0, width: 1281, height: 695, background: '#fff', overflow: 'hidden' }}>
      <style>{`.recharts-surface{overflow:visible}`}</style>
      <svg width={1281} height={695} style={{ position: 'absolute', left: 0, top: 0 }}>
        <rect x={8.5} y={11.5} width={1300} height={720} rx={15} ry={15} fill="none" stroke="#333" strokeWidth={1.5} />
        <text x={27} y={53} fontFamily={FONT} fontWeight="bold" fontSize={28} fill="#111">(a)</text>
        <text x={497} y={56} fontFamily={FONT} fontWeight="bold" fontSize={28} fill="#111">(b)</text>
        <text x={45.8} y={305} transform="rotate(-90 45.8 305)" textAnchor="middle" dominantBaseline="central"
          fontFamily={FONT} fontWeight="bold" fontSize={21.5} fill="#111">
          Conentration (Bq m<tspan dy={-8} fontSize={14}>-3</tspan><tspan dy={8}>)</tspan>
        </text>
        <text x={511.5} y={245} transform="rotate(-90 511.5 245)" textAnchor="middle" dominantBaseline="central"
          fontFamily={FONT} fontWeight="bold" fontSize={22} fill="#111">
          Conentration (Bq m<tspan dy={-8} fontSize={14}>-3</tspan><tspan dy={8}>)</tspan>
        </text>
        <text x={289} y={620.5} textAnchor="middle" fontFamily={FONT} fontWeight="bold" fontSize={21} fill="#111">Day of March 2011</text>
        <text x={910} y={491} textAnchor="middle" fontFamily={FONT} fontWeight="bold" fontSize={21.5} fill="#111">Day of March 2011</text>
        <text x={22} y={657} fontFamily={CAP_FONT} fontSize={18} fill="#1a1a1a"
          textLength={1243} lengthAdjust="spacingAndGlyphs">
          <tspan fontWeight="bold">Fig. 16</tspan> Time series of observed (<tspan fontStyle="italic">dots</tspan>) and two-model ensemble mean (<tspan fontStyle="italic">lines</tspan>) atmospheric <tspan dy={-7} fontSize={11}>137</tspan><tspan dy={7}>Cs concentrations (Bq m</tspan><tspan dy={-7} fontSize={11}>−3</tspan><tspan dy={7}>) from 14 to 24 March </tspan><tspan fontWeight="bold">a</tspan>
        </text>
        <text x={22} y={684} fontFamily={CAP_FONT} fontSize={18} fill="#1a1a1a"
          textLength={1063} lengthAdjust="spacingAndGlyphs">
          in the Tohoku region at sites J, B, C, and E (see Fig. 15) and <tspan fontWeight="bold">b</tspan> in the Kantou region at sites 9, 12, 15, K1, K2, and K3 (see Fig. 15)
        </text>
      </svg>
      {PANELS.map((p) => (
        <Panel key={p.site} cfg={p} />
      ))}
    </div>
  );
}
